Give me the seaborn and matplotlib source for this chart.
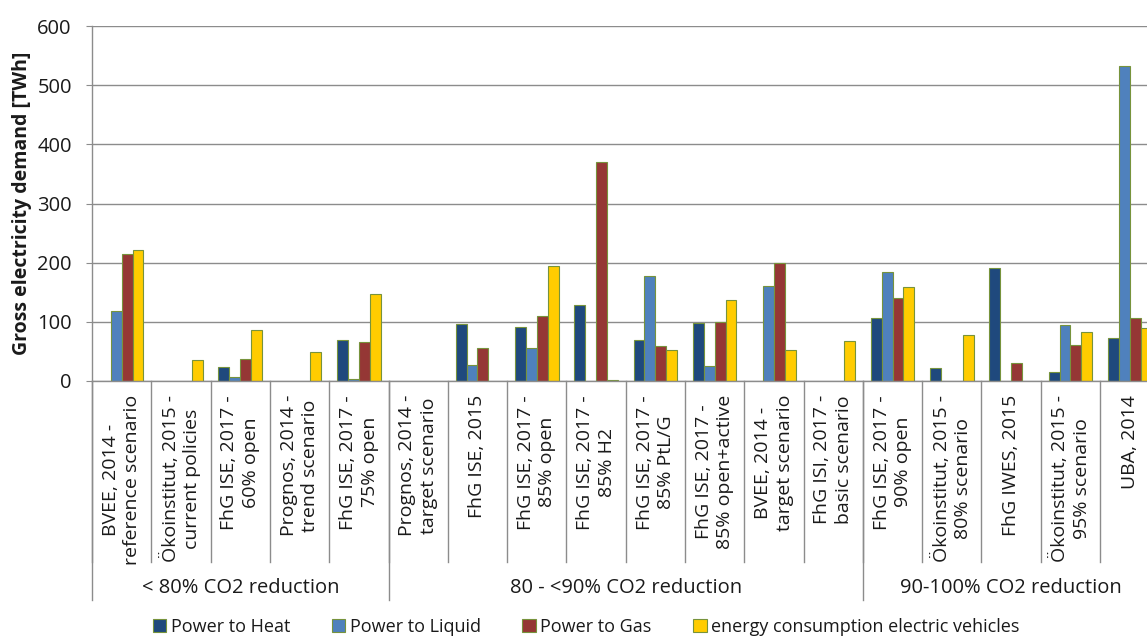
import numpy as np
import pandas as pd
import seaborn as sns
import matplotlib.pyplot as plt
from matplotlib.patches import Patch

# scenario labels (x axis) and group labels
scenarios = [
    "BVEE, 2014 -\nreference scenario",
    "Ökoinstitut, 2015 -\ncurrent policies",
    "FhG ISE, 2017 -\n60% open",
    "Prognos, 2014 -\ntrend scenario",
    "FhG ISE, 2017 -\n75% open",
    "Prognos, 2014 -\ntarget scenario",
    "FhG ISE, 2015",
    "FhG ISE, 2017 -\n85% open",
    "FhG ISE, 2017 -\n85% H2",
    "FhG ISE, 2017 -\n85% PtL/G",
    "FhG ISE, 2017 -\n85% open+active",
    "BVEE, 2014 -\ntarget scenario",
    "FhG ISI, 2017 -\nbasic scenario",
    "FhG ISE, 2017 -\n90% open",
    "Ökoinstitut, 2015 -\n80% scenario",
    "FhG IWES, 2015",
    "Ökoinstitut, 2015 -\n95% scenario",
    "UBA, 2014",
]
groups = ["< 80% CO2 reduction", "80 - <90% CO2 reduction", "90-100% CO2 reduction"]
group_sizes = [5, 8, 5]

series = ["Power to Heat", "Power to Liquid", "Power to Gas",
          "energy consumption electric vehicles"]

nan = np.nan
power_to_heat = [nan, nan, 24, nan, 70, nan, 96, 92, 129, 69, 98, nan, nan, 106, 22, 191, 15, 73]
power_to_liquid = [119, nan, 6, nan, 3, nan, 27, 55, nan, 177, 26, 161, nan, 185, nan, nan, 95, 533]
power_to_gas = [215, nan, 37, nan, 66, nan, 56, 110, 370, 59, 100, 199, nan, 140, nan, 30, 61, 106]
ev_consumption = [221, 35, 87, 49, 147, nan, nan, 195, 2, 52, 137, 53, 68, 159, 77, nan, 82, 90]

colors = ["#1F497D", "#4F81BD", "#953735", "#FFCC00"]
edge = "#77933C"
txt = "#1A1A1A"

df = pd.DataFrame({
    "scenario": scenarios * 4,
    "series": np.repeat(series, len(scenarios)),
    "value": power_to_heat + power_to_liquid + power_to_gas + ev_consumption,
})

plt.rcParams["font.family"] = ["Open Sans", "DejaVu Sans"]
plt.rcParams["font.size"] = 14

fig = plt.figure(figsize=(11.47, 6.37), dpi=100)
ax = fig.add_axes([92 / 1147, 1 - 381 / 637, 1 - 92 / 1147, 355 / 637])

sns.barplot(
    data=df, x="scenario", y="value", hue="series",
    order=scenarios, hue_order=series, palette=dict(zip(series, colors)),
    width=0.735, saturation=1, errorbar=None,
    edgecolor=edge, linewidth=0.8, legend=False, ax=ax,
)

ax.set_ylim(0, 600)
ax.set_xlim(-0.5, (1147 - 92) / 59.3 - 0.5)
ax.set_yticks(range(0, 601, 100))
ax.yaxis.grid(True, color="#8C8C8C", linewidth=1.0)
ax.set_axisbelow(True)
ax.tick_params(axis="y", length=4.5, color="#8C8C8C", pad=10, labelsize=14.5, labelcolor=txt)
ax.tick_params(axis="x", length=0, pad=10)
for s in ["top", "right"]:
    ax.spines[s].set_visible(False)
for s in ["left", "bottom"]:
    ax.spines[s].set_color("#8C8C8C")
    ax.spines[s].set_linewidth(1.0)

ax.set_xticks(range(len(scenarios)))
ax.set_xticklabels(scenarios, rotation=90, va="top", ha="center",
                   multialignment="center", fontsize=14, color=txt, linespacing=1.25)
ax.set_xlabel("")
ax.set_ylabel("Gross electricity demand [TWh]", fontsize=14, fontweight="bold",
              labelpad=4, color=txt)

# separators below the axis
trans = ax.get_xaxis_transform()
for i in range(len(scenarios) + 1):
    ax.plot([i - 0.5, i - 0.5], [0, -181 / 355], transform=trans,
            color="#8C8C8C", lw=1.0, clip_on=False)
start = 0
for g, n in zip(groups, group_sizes):
    ax.plot([start - 0.5, start - 0.5], [0, -219 / 355], transform=trans,
            color="#8C8C8C", lw=1.0, clip_on=False)
    ax.text(start + (n - 1) / 2, -207 / 355, g, transform=trans,
            ha="center", va="center", fontsize=14.5, color=txt)
    start += n

handles = [Patch(facecolor=c, edgecolor=edge, linewidth=0.8) for c in colors]
fig.legend(handles, series, loc="center", bbox_to_anchor=(586 / 1147, 1 - 627 / 637),
           ncol=4, frameon=False, fontsize=13, handlelength=0.75, handleheight=0.75,
           handletextpad=0.25, columnspacing=2.3, labelcolor=txt)

fig.savefig("out.png", dpi=100)
